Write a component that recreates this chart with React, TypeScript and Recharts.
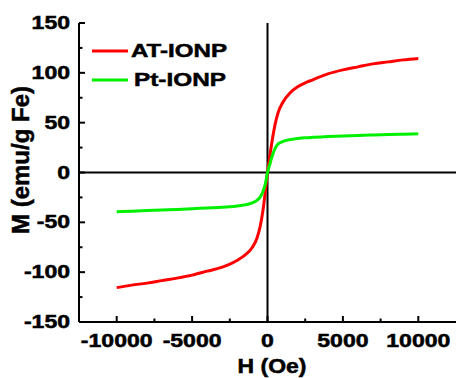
import React from 'react'
import {
  LineChart,
  Line,
  XAxis,
  YAxis,
  ReferenceLine
} from 'recharts'

// field H (Oe)
const fields = [
  -10000, -9000, -8000, -7000, -6000, -5000, -4000, -3000, -2500, -2000, -1500,
  -1000, -700, -500, -300, -150, 0, 150, 300, 500, 700, 1000, 1500, 2000, 2500,
  3000, 4000, 5000, 6000, 7000, 8000, 9000, 10000
]
// magnetisation M (emu/g Fe)
const atIonp = [
  -115.5, -113, -111, -108.5, -106, -103, -99, -95, -92, -88, -83,
  -75, -66, -55, -38, -20, 0, 16, 31, 48, 60, 70, 80, 86, 90,
  93, 99, 103, 106, 109, 111, 113, 114.5
]
const ptIonp = [
  -39.3, -38.8, -38.2, -37.6, -37, -36.3, -35.6, -34.9, -34.3, -33.5, -32.5,
  -30.5, -28, -25, -19, -12, 0, 8, 16, 24, 28.5, 31, 33, 34, 34.8,
  35.3, 36, 36.6, 37.2, 37.7, 38.1, 38.5, 38.8
]
const xTicks = [-10000, -7500, -5000, -2500, 0, 2500, 5000, 7500, 10000]
const yTicks = [-150, -125, -100, -75, -50, -25, 0, 25, 50, 75, 100, 125, 150]
const seriesNames = ['AT-IONP', 'Pt-IONP']
const seriesColors = ['#ff0000', '#00f000']

const data = fields.map((h, i) => ({ h, at: atIonp[i], pt: ptIonp[i] }))

const FONT = 'Liberation Sans, Arial, sans-serif'
const SX = 1.28
// thin outline makes the bold text a bit heavier, like the original
const heavy = { stroke: '#000', strokeWidth: 0.5 }

const BottomTick = (props: any) => {
  const { x, y, payload } = props
  const major = payload.value % 5000 === 0
  return (
    <g>
      <line x1={x} y1={y} x2={x} y2={y - (major ? 6 : 3.5)} stroke="#000" strokeWidth={2} />
      {major && (
        <text
          transform={`translate(${x},${y + 25}) scale(${SX},1)`}
          textAnchor="middle"
          fontFamily={FONT}
          fontWeight="bold"
          fontSize={18}
          fill="#000"
          {...heavy}
        >
          {payload.value}
        </text>
      )}
    </g>
  )
}

const TopTick = (props: any) => {
  const { x, y, payload } = props
  const major = payload.value % 5000 === 0
  return <line x1={x} y1={y} x2={x} y2={y + (major ? 6 : 3.5)} stroke="#000" strokeWidth={2} />
}

const LeftTick = (props: any) => {
  const { x, y, payload } = props
  const major = payload.value % 50 === 0
  return (
    <g>
      <line x1={x} y1={y} x2={x + (major ? 6 : 3.5)} y2={y} stroke="#000" strokeWidth={2} />
      {major && (
        <text
          transform={`translate(${x - 9},${y + 6}) scale(${SX},1)`}
          textAnchor="end"
          fontFamily={FONT}
          fontWeight="bold"
          fontSize={18}
          fill="#000"
          {...heavy}
        >
          {payload.value}
        </text>
      )}
    </g>
  )
}

const RightTick = (props: any) => {
  const { x, y, payload } = props
  const major = payload.value % 50 === 0
  return <line x1={x} y1={y} x2={x - (major ? 6 : 3.5)} y2={y} stroke="#000" strokeWidth={2} />
}

const legendWidths = [96, 92]

const LegendBox = () => (
  <g transform="translate(90,42)">
    {seriesNames.map((name, i) => (
      <g key={name}>
        <line x1={2} x2={38} y1={9 + i * 29} y2={9 + i * 29} stroke={seriesColors[i]} strokeWidth={3} />
        <text
          x={i === 0 ? 41 : 44}
          y={15 + i * 29}
          textLength={legendWidths[i]}
          lengthAdjust="spacingAndGlyphs"
          fontFamily={FONT}
          fontWeight="bold"
          fontSize={19}
          fill="#000"
          {...heavy}
        >
          {name}
        </text>
      </g>
    ))}
  </g>
)

const App: React.FC = () => {
  return (
    <div style={{ position: 'absolute', left: 0, top: 0, width: 457, height: 378, background: '#fff' }}>
      <LineChart
        width={457}
        height={378}
        data={data}
        margin={{ top: 23, right: 1, left: 0, bottom: 0 }}
      >
        <XAxis
          type="number"
          dataKey="h"
          domain={[-12500, 12500]}
          ticks={xTicks}
          interval={0}
          height={56}
          tickSize={0}
          tickMargin={0}
          tickLine={false}
          axisLine={{ stroke: '#000', strokeWidth: 2 }}
          tick={<BottomTick />}
          label={() => (
            <text
              transform={`translate(${272},${373}) scale(1.15,1)`}
              textAnchor="middle"
              fontFamily={FONT}
              fontWeight="bold"
              fontSize={20}
              fill="#000"
              {...heavy}
            >
              H (Oe)
            </text>
          )}
        />
        <XAxis
          xAxisId="top"
          orientation="top"
          type="number"
          dataKey="h"
          domain={[-12500, 12500]}
          ticks={xTicks}
          interval={0}
          height={0}
          tickSize={0}
          tickMargin={0}
          tickLine={false}
          axisLine={{ stroke: '#000', strokeWidth: 2 }}
          tick={<TopTick />}
        />
        <YAxis
          type="number"
          domain={[-150, 150]}
          ticks={yTicks}
          interval={0}
          width={79}
          tickSize={0}
          tickMargin={0}
          tickLine={false}
          axisLine={{ stroke: '#000', strokeWidth: 2 }}
          tick={<LeftTick />}
          label={() => (
            <text
              transform={`translate(${29},${160}) rotate(-90)`}
              textAnchor="middle"
              fontFamily={FONT}
              fontWeight="bold"
              fontSize={24}
              fill="#000"
              {...heavy}
            >
              M (emu/g Fe)
            </text>
          )}
        />
        <YAxis
          yAxisId="right"
          orientation="right"
          type="number"
          domain={[-150, 150]}
          ticks={yTicks}
          interval={0}
          width={0}
          tickSize={0}
          tickMargin={0}
          tickLine={false}
          axisLine={{ stroke: '#000', strokeWidth: 2 }}
          tick={<RightTick />}
        />
        <ReferenceLine x={0} stroke="#000" strokeWidth={2} />
        <ReferenceLine y={0} stroke="#000" strokeWidth={2} />
        <Line
          type="monotone"
          dataKey="at"
          name={seriesNames[0]}
          stroke={seriesColors[0]}
          strokeWidth={3}
          dot={false}
          isAnimationActive={false}
        />
        <Line
          type="monotone"
          dataKey="pt"
          name={seriesNames[1]}
          stroke={seriesColors[1]}
          strokeWidth={3}
          dot={false}
          isAnimationActive={false}
        />
        <LegendBox />
      </LineChart>
    </div>
  )
}

export default App
